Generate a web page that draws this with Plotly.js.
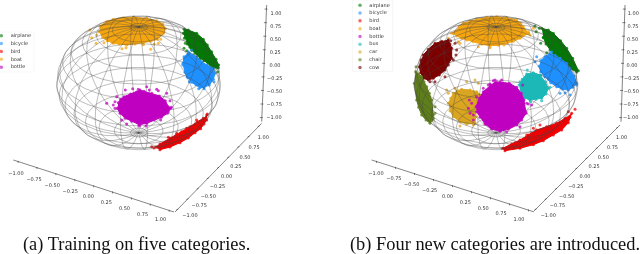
<!DOCTYPE html>
<html><head><meta charset="utf-8">
<script src="https://cdn.plot.ly/plotly-3.0.1.min.js"></script>
<style>html,body{margin:0;padding:0;background:#fff;overflow:hidden}#c{width:640px;height:254px;filter:blur(0.45px)}</style>
</head><body><div id="c"></div>
<script>
// All mark values in a 960 x 762 panel coordinate system.
const categoriesA = ["airplane","bicycle","bird","boat","bottle"];
const categoriesB = ["airplane","bicycle","bird","boat","bottle","bus","car","chair","cow"];
const tickLabels = ["\u22121.00","\u22120.75","\u22120.50","\u22120.25","0.00","0.25","0.50","0.75","1.00"];
const colors = {airplane:"#007a00",bicycle:"#1e90ff",bird:"#f00000",boat:"#f5a510",bottle:"#c000c0",bus:"#1cb8b8",car:"#daa520",chair:"#5f7f1a",cow:"#7d0000"};
const latRings = [-84,-72,-60,-48,-36,-24,-12,0,12,24,36,48,60,72,84];
const meridians = [0,18,36,54,72,90,108,126,144,162,180,198,216,234,252,270,288,306,324,342];

// Panel a: cluster outlines and stray points
const aPlaneX=[552,565,590,610,622,635,648,656,655,640,625,612,600,585,575,562,556,550];
const aPlaneY=[88,90,100,118,135,155,178,195,203,202,190,182,174,160,150,132,112,100];
const aPlaneSX=[553,556,552,650,653,582,560,570,600,630];
const aPlaneSY=[115,130,145,205,215,175,152,142,180,198];
const aBikeX=[565,578,590,605,620,640,645,640,628,612,600,588,575,562,555,549,552];
const aBikeY=[155,165,170,185,195,205,220,238,255,262,263,254,247,232,217,190,170];
const aBikeSX=[575,548,642,612,596,568];
const aBikeSY=[150,195,245,266,266,245];
const aBirdX=[620,620,612,602,585,565,540,510,480,468,480,510,530,545,570,592,610];
const aBirdY=[345,360,372,386,398,414,428,441,449,441,432,415,405,395,380,365,355];
const aBirdSX=[455,462,622,505,530,560,590];
const aBirdSY=[440,444,342,412,400,385,360];
const aBoatX=[300,320,340,370,400,440,470,488,496,490,472,452,430,405,380,358,340,322,308,298];
const aBoatY=[78,65,58,53,52,55,62,72,85,100,118,124,128,132,135,132,130,122,112,95];
const aBoatSX=[275,290,288,378,452,475,430,492,270,366,312,462,482];
const aBoatSY=[113,105,130,143,148,130,134,95,90,146,128,132,118];
const aBottleX=[355,362,372,392,410,420,432,455,478,496,505,512,502,484,462,440,418,395,375,360,352];
const aBottleY=[308,298,290,282,276,270,274,280,288,302,320,325,340,352,360,370,374,364,354,340,325];
const aBottleSX=[376,340,320,345,350,415,440,448,510,514,500,475,418,380,365,470,482,398,438,345,505];
const aBottleSY=[270,315,310,325,290,268,260,270,302,322,280,272,378,372,360,268,360,266,378,305,335];

// Panel b: cluster outlines and stray points
const bPlaneX=[665,685,700,722,740,758,775,770,750,735,720,705,690,678,670];
const bPlaneY=[85,90,100,122,145,175,212,216,205,195,185,170,150,132,112];
const bPlaneSX=[645,658,625,662,670,648,740,680];
const bPlaneSY=[78,85,100,130,113,95,208,158];
const bBikeX=[662,675,690,705,720,740,750,762,770,758,745,728,710,692,675,662,658];
const bBikeY=[182,170,160,166,175,190,205,228,250,262,270,268,260,248,230,215,198];
const bBikeSX=[645,650,770,750,720,695,662,735];
const bBikeSY=[185,170,255,285,280,155,225,278];
const bBirdX=[755,750,745,725,700,670,640,600,555,548,575,600,625,650,680,710,735];
const bBirdY=[340,352,368,390,405,422,434,445,452,445,432,420,405,390,380,370,355];
const bBirdSX=[620,610,635,640,660,745,765,585];
const bBirdSY=[405,420,400,385,375,335,328,428];
const bBoatX=[405,418,430,450,470,500,530,560,590,602,610,625,600,580,560,535,510,485,460,440,425,410,400];
const bBoatY=[95,80,70,63,58,52,50,53,60,70,80,100,115,124,130,136,137,133,125,120,115,108,100];
const bBoatSX=[385,415,625,630,420,475,510,552,395,640];
const bBoatSY=[115,125,95,105,130,140,143,135,100,85];
const bBottleX=[468,478,490,512,525,540,568,590,604,612,618,605,590,565,540,515,495,480,470];
const bBottleY=[320,295,275,256,248,246,250,262,280,300,340,360,375,388,394,387,372,352,335];
const bBottleSX=[525,505,490,455,445,460,625,635,618,620,608,520,450,470,560,510,530,448,460,600,545];
const bBottleSY=[240,255,265,310,325,345,312,315,335,310,255,242,340,290,396,252,245,300,360,380,240];
const bBusX=[597,607,620,640,660,675,685,678,665,648,630,612,603];
const bBusY=[255,238,222,218,225,245,265,282,295,298,300,293,285];
const bBusSX=[622,600,690,665,632];
const bBusSY=[210,245,262,302,305];
const bCarX=[385,392,400,412,425,450,470,490,478,470,468,465,440,420,400,390];
const bCarY=[310,295,280,272,268,270,275,290,305,320,350,370,372,365,350,332];
const bCarSX=[380,385,405,440,465,475,420,460];
const bCarSY=[270,280,265,245,240,250,378,375];
const bChairX=[287,296,305,312,320,328,335,340,337,330,318,305,296,290,283];
const bChairY=[215,222,230,245,260,280,300,345,358,370,360,345,322,300,250];
const bChairSX=[345,345,340,335,288];
const bChairSY=[320,340,355,362,200];
const bCowX=[310,325,345,365,385,390,395,395,385,375,358,340,325,310,302,298,303];
const bCowY=[165,148,130,124,120,132,145,175,195,210,225,235,240,235,218,200,180];
const bCowSX=[410,408,400,375,345,290,360,392,330,405];
const bCowSY=[150,165,180,230,245,235,128,122,245,130];

const panelA = [
  ["airplane",aPlaneX,aPlaneY,aPlaneSX,aPlaneSY],["boat",aBoatX,aBoatY,aBoatSX,aBoatSY],
  ["bird",aBirdX,aBirdY,aBirdSX,aBirdSY],["bicycle",aBikeX,aBikeY,aBikeSX,aBikeSY]];
const panelATop = [["bottle",aBottleX,aBottleY,aBottleSX,aBottleSY]];
const panelB = [
  ["airplane",bPlaneX,bPlaneY,bPlaneSX,bPlaneSY],["boat",bBoatX,bBoatY,bBoatSX,bBoatSY],
  ["bird",bBirdX,bBirdY,bBirdSX,bBirdSY],["bicycle",bBikeX,bBikeY,bBikeSX,bBikeSY],
  ["cow",bCowX,bCowY,bCowSX,bCowSY],["chair",bChairX,bChairY,bChairSX,bChairSY],
  ["car",bCarX,bCarY,bCarSX,bCarSY]];
const panelBTop = [["bus",bBusX,bBusY,bBusSX,bBusSY],["bottle",bBottleX,bBottleY,bBottleSX,bBottleSY]];

const panels = {
  a:{xa:"x",ya:"y",cx:416,cy:246,
     xAxis:[[40,480],[522,636]],yAxis:[[525,636],[785,370]],zAxis:[[785,365],[800,15]],
     xLab:[[48,522],[482,660]],yLab:[[570,648],[790,413]],zLab:[[822,352],[828,40]],
     legend:{cats:categoriesA,x0:4,tx:32,y0:107,dy:23.6,box:[-6,102,96,216]}},
  b:{xa:"x2",ya:"y2",cx:528,cy:246,
     xAxis:[[155,480],[640,635]],yAxis:[[640,635],[900,375]],zAxis:[[903,365],[915,15]],
     xLab:[[168,520],[597,660]],yLab:[[685,648],[905,413]],zLab:[[932,352],[940,42]],
     legend:{cats:categoriesB,x0:120,tx:148,y0:16,dy:23.3,box:[97,218,0,214]}}
};

const az=-60*Math.PI/180, el=30*Math.PI/180, Sh=245, Sz=183, persp=0.08;
function project(p,lat,lon){
  const la=lat*Math.PI/180, lo=lon*Math.PI/180;
  const X=Math.cos(la)*Math.cos(lo),Y=Math.cos(la)*Math.sin(lo),Z=Math.sin(la);
  const r=-Math.sin(az)*X+Math.cos(az)*Y;
  const h=Math.cos(az)*X+Math.sin(az)*Y;
  const d=Math.cos(el)*h+Math.sin(el)*Z;
  const f=1/(1-persp*d);
  return [p.cx+Sh*r*f, p.cy-(Sz*Math.cos(el)*Z-Sh*Math.sin(el)*h)*f];
}
function wire(p){
  const x=[],y=[];
  const add=q=>{x.push(q[0]);y.push(q[1]);};
  latRings.forEach(l=>{for(let t=0;t<=360;t+=6)add(project(p,l,t));x.push(null);y.push(null);});
  meridians.forEach(m=>{for(let l=-90;l<=90;l+=5)add(project(p,l,m));x.push(null);y.push(null);});
  return {type:"scatter",mode:"lines",x,y,xaxis:p.xa,yaxis:p.ya,hoverinfo:"skip",showlegend:false,
          line:{color:"rgba(70,70,70,0.5)",width:0.7}};
}
function cluster(p,e){
  const [name,ox,oy,sx,sy]=e, c=colors[name];
  return [
   {type:"scatter",mode:"lines+markers",name,x:ox,y:oy,xaxis:p.xa,yaxis:p.ya,fill:"toself",fillcolor:c,showlegend:false,
    line:{color:c,width:1,shape:"linear"},marker:{color:c,size:3,opacity:.8}},
   {type:"scatter",mode:"markers",name,x:sx,y:sy,xaxis:p.xa,yaxis:p.ya,showlegend:false,
    marker:{color:c,size:3,opacity:.75}}
  ];
}
function lerp(a,b,t){return [a[0]+(b[0]-a[0])*t,a[1]+(b[1]-a[1])*t];}
function axisTraces(p){
  const out=[];
  [["xAxis","xLab",[0,4]],["yAxis","yLab",[-4,2]],["zAxis","zLab",[-6,0]]].forEach(([ak,lk,tk],idx)=>{
    const A=p[ak],L=p[lk];
    const inset=idx===2?0.035:0.03;
    const x=[A[0][0],A[1][0],null],y=[A[0][1],A[1][1],null];
    const lx=[],ly=[];
    tickLabels.forEach((t,i)=>{
      const u=inset+(1-2*inset)*i/8;
      const q=[A[0][0]+(A[1][0]-A[0][0])*u,A[0][1]+(A[1][1]-A[0][1])*u];
      x.push(q[0]-tk[0]*.5,q[0]+tk[0],null);y.push(q[1]-tk[1]*.5,q[1]+tk[1],null);
      const m=lerp(L[0],L[1],i/8);lx.push(m[0]);ly.push(m[1]);
    });
    out.push({type:"scatter",mode:"lines",x,y,xaxis:p.xa,yaxis:p.ya,hoverinfo:"skip",showlegend:false,
      line:{color:"#333",width:0.6}});
    out.push({type:"scatter",mode:"text",x:lx,y:ly,text:tickLabels,xaxis:p.xa,yaxis:p.ya,hoverinfo:"skip",showlegend:false,
      cliponaxis:false,textposition:"middle center",textfont:{family:"DejaVu Sans",size:5,color:"#333"}});
  });
  return out;
}
function legendTraces(p){
  const L=p.legend, b=L.box;
  const out=[{type:"scatter",mode:"lines",x:[b[0],b[1],b[1],b[0],b[0]],y:[b[2],b[2],b[3],b[3],b[2]],xaxis:p.xa,yaxis:p.ya,
     hoverinfo:"skip",showlegend:false,line:{color:"rgba(215,215,215,.45)",width:.5}}];
  const ys=L.cats.map((_,i)=>L.y0+i*L.dy);
  out.push({type:"scatter",mode:"markers",x:L.cats.map(()=>L.x0),y:ys,xaxis:p.xa,yaxis:p.ya,hoverinfo:"skip",showlegend:false,
     cliponaxis:false,marker:{color:L.cats.map(c=>colors[c]),size:3.5,opacity:.6}});
  out.push({type:"scatter",mode:"text",x:L.cats.map(()=>L.tx),y:ys,text:L.cats,xaxis:p.xa,yaxis:p.ya,hoverinfo:"skip",showlegend:false,
     cliponaxis:false,textposition:"middle right",textfont:{family:"DejaVu Sans",size:5,color:"#333"}});
  return out;
}
const data=[];
[[panels.a,panelA,panelATop],[panels.b,panelB,panelBTop]].forEach(([p,under,top])=>{
  under.forEach(e=>data.push(...cluster(p,e)));
  data.push(wire(p));
  top.forEach(e=>data.push(...cluster(p,e)));
  data.push(...axisTraces(p),...legendTraces(p));
});
const ax=d=>({domain:d,range:[0,960],visible:false,fixedrange:true});
const ay={range:[762,0],visible:false,fixedrange:true};
const cap=(xref,x,text)=>({xref,yref:"paper",x,y:0.036,text,showarrow:false,xanchor:"center",yanchor:"middle",
  font:{family:"Liberation Serif",size:18.4,color:"#111"}});
Plotly.newPlot("c",data,{
  width:640,height:254,margin:{l:0,r:0,t:0,b:0},paper_bgcolor:"#fff",plot_bgcolor:"#fff",showlegend:false,
  xaxis:ax([0,.5]),xaxis2:ax([.5,1]),yaxis:{...ay},yaxis2:{...ay},
  annotations:[cap("x",410,"(a) Training on five categories."),cap("x2",526,"(b) Four new categories are introduced.")]
},{staticPlot:true,displayModeBar:false});
</script></body></html>
